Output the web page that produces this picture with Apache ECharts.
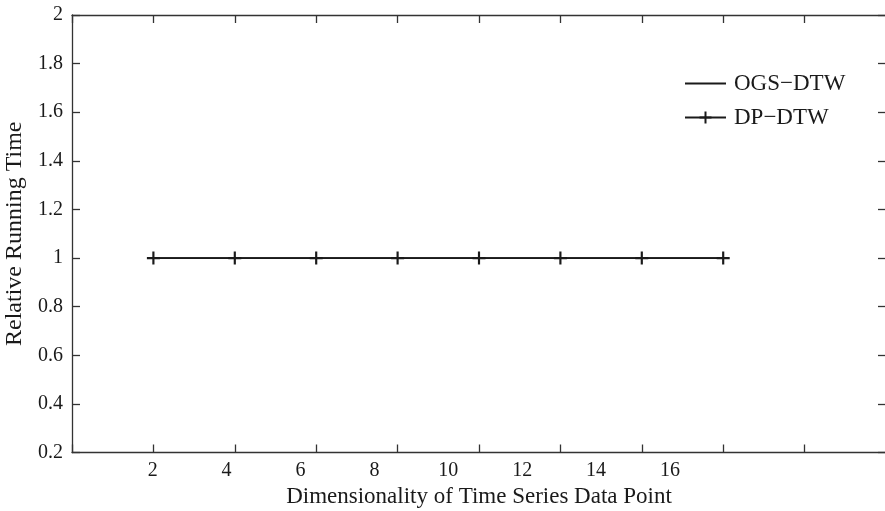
<!DOCTYPE html>
<html>
<head>
<meta charset="utf-8">
<script src="https://cdn.jsdelivr.net/npm/echarts@6/dist/echarts.min.js"></script>
<style>
html,body{margin:0;padding:0;background:#fff;}
#chart{width:885px;height:511px;}
</style>
</head>
<body>
<div id="chart"></div>
<script>
// Data
var xIndex = [1, 2, 3, 4, 5, 6, 7, 8];
var ogsDtw = [1, 1, 1, 1, 1, 1, 1, 1];
var dpDtw = [1, 1, 1, 1, 1, 1, 1, 1];
var xTickLabels = ['2', '4', '6', '8', '10', '12', '14', '16'];
var seriesNames = ['OGS\u2212DTW', 'DP\u2212DTW'];
var xTitle = 'Dimensionality of Time Series Data Point';
var yTitle = 'Relative Running Time';

var FONT = "'Liberation Serif', 'Times New Roman', serif";
var INK = '#1a1a1a';
var AX = '#333';
var plus = 'path://M0,5 H12 V7 H0 Z M5,0 H7 V12 H5 Z';

function pairs(xs, ys) { return xs.map(function (x, i) { return [x, ys[i]]; }); }

var chart = echarts.init(document.getElementById('chart'), null, {renderer: 'canvas'});
chart.setOption({
  animation: false,
  backgroundColor: '#fff',
  textStyle: {fontFamily: FONT, color: INK},
  grid: {left: 72, top: 15, width: 814, height: 437.5, containLabel: false, outerBoundsMode: 'none'},
  legend: {
    orient: 'vertical',
    left: 684, top: 72,
    padding: 0,
    itemWidth: 41, itemHeight: 15, itemGap: 11,
    textStyle: {fontFamily: FONT, fontSize: 23, color: INK, padding: [0, 0, 0, 3]},
    data: [
      {name: seriesNames[0], itemStyle: {opacity: 0, color: 'rgba(0,0,0,0)', borderWidth: 0}},
      {name: seriesNames[1]}
    ]
  },
  xAxis: [
    {
      type: 'value', min: 0, max: 10, interval: 1, position: 'bottom',
      axisLine: {show: true, onZero: false, lineStyle: {color: AX, width: 1.3}},
      axisTick: {show: true, inside: true, length: 8, lineStyle: {color: AX, width: 1.3}},
      axisLabel: {show: false},
      splitLine: {show: false}
    },
    {
      type: 'value', min: 0, max: 10, interval: 1, position: 'top',
      axisLine: {show: true, onZero: false, lineStyle: {color: AX, width: 1.3}},
      axisTick: {show: true, inside: true, length: 8, lineStyle: {color: AX, width: 1.3}},
      axisLabel: {show: false},
      splitLine: {show: false}
    },
    {
      type: 'value', min: -0.092, max: 10.923, position: 'bottom',
      axisLine: {show: false},
      axisTick: {show: false},
      splitLine: {show: false},
      axisLabel: {
        show: true, customValues: xIndex, margin: 8,
        fontFamily: FONT, fontSize: 20, color: INK,
        formatter: function (v) { return xTickLabels[Math.round(v) - 1] || ''; }
      },
      name: xTitle, nameLocation: 'middle', nameGap: 25,
      nameTextStyle: {fontFamily: FONT, fontSize: 23, color: INK}
    }
  ],
  yAxis: [
    {
      type: 'value', min: 0.2, max: 2, interval: 0.2, position: 'left',
      axisLine: {show: true, onZero: false, lineStyle: {color: AX, width: 1.3}},
      axisTick: {show: true, inside: true, length: 8, lineStyle: {color: AX, width: 1.3}},
      axisLabel: {
        margin: 9, fontFamily: FONT, fontSize: 20, color: INK,
        formatter: function (v) { return String(+v.toFixed(1)); }
      },
      splitLine: {show: false},
      name: yTitle, nameLocation: 'middle', nameGap: 45,
      nameTextStyle: {fontFamily: FONT, fontSize: 24, color: INK}
    },
    {
      type: 'value', min: 0.2, max: 2, interval: 0.2, position: 'right',
      axisLine: {show: true, onZero: false, lineStyle: {color: AX, width: 1.3}},
      axisTick: {show: true, inside: true, length: 8, lineStyle: {color: AX, width: 1.3}},
      axisLabel: {show: false},
      splitLine: {show: false}
    }
  ],
  series: [
    {
      name: seriesNames[0], type: 'line', xAxisIndex: 0, yAxisIndex: 0,
      data: pairs(xIndex, ogsDtw),
      symbol: 'none',
      lineStyle: {color: INK, width: 1.8},
      itemStyle: {color: INK}
    },
    {
      name: seriesNames[1], type: 'line', xAxisIndex: 0, yAxisIndex: 0,
      data: pairs(xIndex, dpDtw),
      symbol: plus, symbolSize: 13,
      lineStyle: {color: INK, width: 1.8},
      itemStyle: {color: INK, borderWidth: 0}
    }
  ]
});
</script>
</body>
</html>
